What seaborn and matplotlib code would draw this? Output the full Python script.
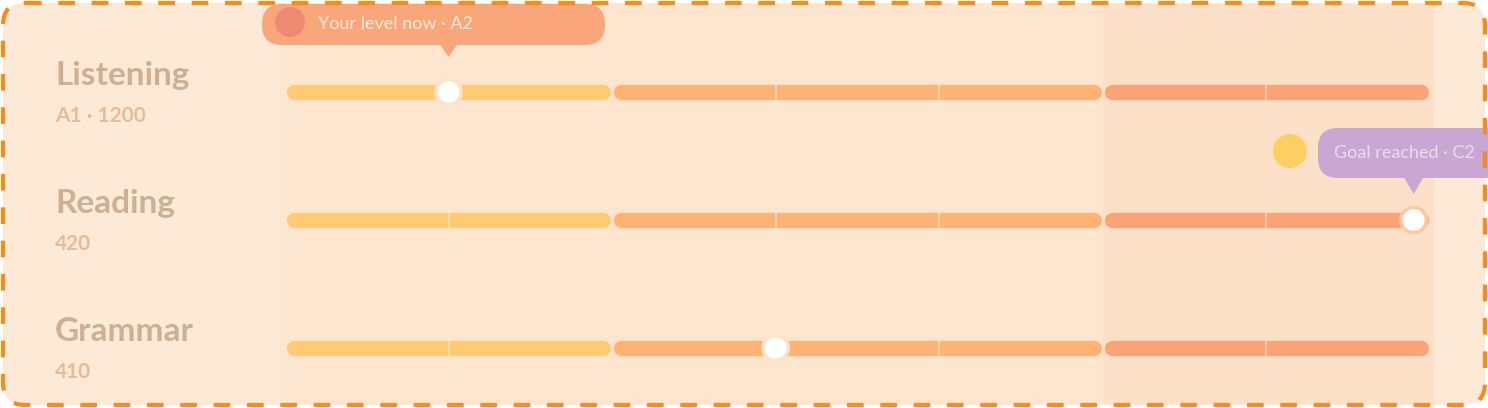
import numpy as np
import pandas as pd
import matplotlib.pyplot as plt
import seaborn as sns
from matplotlib.patches import FancyBboxPatch, Circle, Polygon

# 数据
skills = ['Listening', 'Reading', 'Grammar']
skill_notes = ['A1 · 1200', '420', '410']
skill_scores = [1.0, 6.9, 3.0]          # position on the 7-step scale
level_names = ['A1', 'A2', 'B1', 'B2', 'B3', 'C1', 'C2']
level_band = ['basic', 'basic', 'mid', 'mid', 'mid', 'high', 'high']
band_colors = {'basic': '#FFCB72', 'mid': '#FFB274', 'high': '#FBA277'}
band_bg = {'basic': '#FDE6D0', 'mid': '#FEE6CE', 'high': '#FDE0C8'}
top_note = 'Your level now · A2'
goal_note = 'Goal reached · C2'

W, H = 1488, 408
sns.set_theme(style='white')
plt.rcParams['font.family'] = ['Lato', 'DejaVu Sans']

fig = plt.figure(figsize=(W / 100, H / 100), dpi=100)
fig.patch.set_facecolor('white')

# 背景层
bg = fig.add_axes([0, 0, 1, 1], zorder=0)
bg.set_xlim(0, W)
bg.set_ylim(H, 0)
bg.axis('off')
bg.add_patch(FancyBboxPatch((3, 3), W - 6, H - 6, boxstyle='round,pad=0,rounding_size=22',
                            fc='#FDEAD6', ec='none'))

# 主图层
ax = fig.add_axes([0, 0, 1, 1], zorder=1)
ax.patch.set_alpha(0)
unit = 1145 / 7
ax.set_xlim(-285 / unit, 7 + 58 / unit)
ax.set_ylim(2 + 60 / 128, -92 / 128)
ax.axis('off')

n_lv = len(level_names)
bands = pd.DataFrame({'level': level_names, 'band': level_band, 'start': np.arange(n_lv)})
rows = np.arange(len(skills))
for band, grp in bands.groupby('band', sort=False):
    lo = grp['start'].min()
    hi = grp['start'].max() + 1
    ax.axvspan(lo - (0.03 if lo == 0 else 0), hi + (0.03 if hi == n_lv else 0),
               ymin=4 / H, ymax=1 - 4 / H, color=band_bg[band], lw=0, zorder=0)
    # 每个等级段一条圆头粗线
    ax.hlines(rows, lo + 0.055, hi - 0.055, color=band_colors[band], lw=11,
              capstyle='round', zorder=2)
    # 段内等级之间的细分隔
    for b in grp['start'].values[1:]:
        ax.vlines(np.full(len(rows), b), rows - 0.06, rows + 0.06, color=band_bg[band],
                  lw=1.5, alpha=0.6, zorder=3)

marks = pd.DataFrame({'skill': skills, 'score': skill_scores, 'row': rows})
sns.scatterplot(data=marks, x='score', y='row', s=330, color='white',
                edgecolor=['#FDE1C8', '#FCC9A2', '#FDE1C8'], linewidth=2.5, ax=ax, zorder=5, legend=False)

for r, name, note in zip(rows, skills, skill_notes):
    ax.text(-285 / unit + 55 / unit, r - 0.13, name, fontsize=24, color='#CDAF94',
            va='center', ha='left', fontweight='bold')
    ax.text(-285 / unit + 55 / unit, r + 0.19, note, fontsize=15, color='#E5BC98',
            va='center', ha='left', fontweight='bold')

# 前景层: 标注
fg = fig.add_axes([0, 0, 1, 1], zorder=3)
fg.set_xlim(0, W)
fg.set_ylim(H, 0)
fg.axis('off')
fg.patch.set_alpha(0)


def to_px(x, y):
    px, py = ax.transData.transform((x, y))
    return px, H - py


# 上方标注 (Listening)
tx, ty = to_px(skill_scores[0], rows[0])
fg.add_patch(FancyBboxPatch((262, 4), 343, 41, boxstyle='round,pad=0,rounding_size=20',
                            fc='#F9A77A', ec='none'))
fg.add_patch(Polygon([[tx - 9, 44], [tx + 9, 44], [tx, 57]], fc='#F9A77A', ec='none'))
fg.add_patch(Circle((290, 22), 15, fc='#EE8A72', ec='none'))
fg.text(318, 24, top_note, fontsize=13, color='white', alpha=0.75, va='center', ha='left')

# 右侧标注 (Reading)
rx, ry = to_px(skill_scores[1], rows[1])
fg.add_patch(FancyBboxPatch((1318, 128), 200, 50, boxstyle='round,pad=0,rounding_size=20',
                            fc='#C9A7D3', ec='none'))
fg.add_patch(Polygon([[rx - 10, 177], [rx + 10, 177], [rx, 194]], fc='#C9A7D3', ec='none'))
fg.add_patch(Circle((1290, 151), 17, fc='#FDCF62', ec='none'))
fg.text(1334, 153, goal_note, fontsize=13, color='white', alpha=0.6, va='center', ha='left')

# 虚线边框
fg.add_patch(FancyBboxPatch((3, 3), W - 6, H - 6, boxstyle='round,pad=0,rounding_size=22',
                            fc='none', ec='#F68B1F', lw=3, ls=(0, (4, 4))))

fig.savefig('out.png', dpi=100)
